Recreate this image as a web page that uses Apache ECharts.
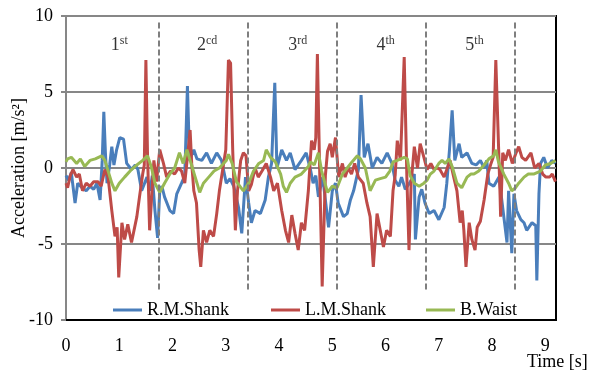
<!DOCTYPE html>
<html>
<head>
<meta charset="utf-8">
<script src="https://cdn.jsdelivr.net/npm/echarts@6/dist/echarts.min.js"></script>
<style>
  html, body { margin: 0; padding: 0; background: #fff; }
  #chart { width: 594px; height: 373px; }
</style>
</head>
<body>
<div id="chart"></div>
<script>
// series, [time s, acceleration m/s2]
const rmShank = [[0,-0.5],[0.05,-0.8],[0.1,-0.3],[0.17,-2.3],[0.22,-1.0],[0.3,-1.3],[0.38,-1.5],[0.45,-1.2],[0.52,-1.4],[0.58,-1.0],[0.64,-2.1],[0.68,0.5],[0.71,3.7],[0.74,1.0],[0.77,-1.0],[0.82,0.2],[0.86,1.4],[0.9,0.2],[0.95,1.2],[1.01,2.0],[1.08,1.9],[1.14,0.3],[1.23,-0.1],[1.3,0.2],[1.35,-0.1],[1.42,-1.5],[1.52,-0.6],[1.58,-1.5],[1.62,-0.5],[1.67,-2.8],[1.72,-4.6],[1.76,-1.5],[1.8,-1.2],[1.85,-1.9],[1.95,-2.8],[2.02,-3.0],[2.08,-1.7],[2.17,-1.0],[2.23,-0.5],[2.28,5.4],[2.32,0.5],[2.4,1.2],[2.46,0.6],[2.55,0.5],[2.64,1.0],[2.73,0.3],[2.83,1.0],[2.92,0.5],[3.01,-1.0],[3.08,-0.7],[3.15,-1.2],[3.24,-2.6],[3.3,-4.3],[3.37,-0.6],[3.43,-2.3],[3.48,-3.6],[3.55,-2.8],[3.65,-3.0],[3.74,-2.1],[3.8,-0.6],[3.86,0.3],[3.92,5.6],[3.96,0],[4.05,1.2],[4.14,0.5],[4.21,1.0],[4.3,-0.1],[4.42,0.5],[4.51,1.0],[4.59,-0.1],[4.64,-1.0],[4.69,-0.5],[4.74,-1.9],[4.82,-0.6],[4.93,-3.9],[5.0,-1.5],[5.06,-1.0],[5.11,-2.3],[5.21,-3.2],[5.28,-3.0],[5.34,-2.1],[5.4,-1.5],[5.49,-0.1],[5.54,4.8],[5.6,0.7],[5.67,1.6],[5.75,0],[5.84,0.7],[5.93,0.3],[6.03,1.0],[6.12,0.3],[6.18,-0.8],[6.25,-1.2],[6.3,-0.6],[6.37,-1.4],[6.45,-1.0],[6.54,-0.4],[6.56,-4.7],[6.63,-1.9],[6.68,-1.4],[6.74,-2.3],[6.82,-3.0],[6.91,-2.8],[7.0,-3.4],[7.1,-2.6],[7.15,-1.0],[7.2,1.2],[7.25,3.8],[7.3,0.5],[7.38,1.6],[7.43,0.7],[7.53,1.0],[7.62,0.3],[7.7,0.2],[7.78,0.5],[7.85,0.0],[7.9,0.5],[7.94,-1.0],[8.03,-1.2],[8.13,-0.6],[8.22,-3.2],[8.28,-4.9],[8.31,-1.5],[8.37,-5.6],[8.41,-1.7],[8.46,-2.8],[8.54,-3.4],[8.6,-3.6],[8.65,-4.1],[8.75,-3.6],[8.82,-3.8],[8.84,-7.4],[8.88,-1.7],[8.91,0.3],[8.97,0.7],[9.04,0.0],[9.12,0.5],[9.19,0.3]];

const lmShank = [[0,-1.0],[0.03,-1.3],[0.08,-0.5],[0.13,-0.1],[0.2,-0.6],[0.25,-0.4],[0.31,-1.5],[0.38,-1.0],[0.45,-1.2],[0.52,-0.9],[0.6,-0.9],[0.66,-1.2],[0.73,-0.1],[0.79,-0.6],[0.86,-2.8],[0.92,-4.5],[0.96,-3.9],[0.99,-7.2],[1.05,-3.6],[1.1,-4.7],[1.16,-3.7],[1.23,-4.9],[1.33,-3.2],[1.38,-1.9],[1.44,-0.4],[1.47,0.2],[1.5,7.1],[1.53,1.0],[1.57,-4.1],[1.65,0.5],[1.7,-0.9],[1.76,1.2],[1.83,0.3],[1.89,-0.6],[1.96,-0.2],[2.04,-0.4],[2.11,0.0],[2.17,-0.2],[2.23,-1.0],[2.3,1.4],[2.33,2.5],[2.36,0.3],[2.4,-1.5],[2.45,-2.3],[2.5,-5.4],[2.53,-6.5],[2.58,-4.1],[2.64,-4.9],[2.7,-4.1],[2.77,-4.5],[2.83,-3.0],[2.88,-1.5],[2.96,0.3],[3.0,1.2],[3.05,7.1],[3.09,6.9],[3.13,1.2],[3.18,-4.1],[3.22,-1.5],[3.28,0.5],[3.33,1.0],[3.38,0.8],[3.43,-1.5],[3.48,-1.1],[3.55,0.0],[3.61,-0.6],[3.68,-0.2],[3.76,0.3],[3.84,-0.6],[3.9,-1.5],[3.97,-1.0],[4.05,-2.8],[4.12,-4.1],[4.18,-4.9],[4.24,-3.1],[4.3,-4.3],[4.36,-5.4],[4.42,-3.6],[4.48,-4.1],[4.55,-1.5],[4.61,1.8],[4.66,1.2],[4.69,2.0],[4.72,7.5],[4.76,0.3],[4.81,-7.8],[4.87,-0.5],[4.91,1.1],[4.96,1.6],[5.0,0.7],[5.06,2.0],[5.12,-0.6],[5.19,0.3],[5.24,-0.6],[5.3,0.0],[5.36,-0.4],[5.42,0.3],[5.49,-0.6],[5.58,-1.0],[5.65,-2.3],[5.71,-3.2],[5.77,-6.5],[5.84,-3.0],[5.9,-4.1],[5.96,-5.2],[6.02,-4.1],[6.09,-4.5],[6.14,-1.5],[6.18,-0.5],[6.22,1.8],[6.28,0.5],[6.35,7.3],[6.4,-0.6],[6.44,-5.4],[6.48,-1.0],[6.54,1.4],[6.6,0.0],[6.65,1.6],[6.72,0.7],[6.78,-0.1],[6.85,0.3],[6.91,-0.1],[6.97,0.0],[7.02,-0.1],[7.1,-0.6],[7.16,0.0],[7.21,0.5],[7.28,-0.6],[7.34,-1.5],[7.4,-3.6],[7.44,-2.8],[7.47,-4.1],[7.51,-6.5],[7.57,-3.6],[7.62,-4.7],[7.68,-5.4],[7.72,-3.9],[7.78,-3.5],[7.85,-2.1],[7.92,-0.4],[7.98,0.3],[8.02,0.7],[8.07,7.1],[8.11,2.7],[8.15,-1.8],[8.16,-3.2],[8.2,1.0],[8.25,0.5],[8.31,1.2],[8.38,0.3],[8.45,1.0],[8.5,1.4],[8.56,0.7],[8.63,0.5],[8.73,1.0],[8.8,0.0],[8.88,0.3],[8.95,-0.4],[9.01,-0.6],[9.08,-0.6],[9.13,-0.4],[9.19,-0.9]];

const bWaist = [[0,0.4],[0.03,0.6],[0.1,0.7],[0.2,0.3],[0.27,0.6],[0.35,0.1],[0.45,0.5],[0.55,0.6],[0.67,0.8],[0.73,0.5],[0.8,-0.3],[0.86,-1.0],[0.92,-1.5],[1.0,-1.0],[1.1,-0.6],[1.23,-0.1],[1.33,0.2],[1.44,0.5],[1.53,0.8],[1.6,0.1],[1.67,-1.0],[1.76,-1.6],[1.85,-1.0],[1.95,-0.4],[2.04,0.0],[2.13,1.0],[2.2,0.3],[2.27,1.2],[2.33,0.5],[2.4,-0.3],[2.46,-1.0],[2.51,-1.6],[2.58,-1.0],[2.68,-0.6],[2.78,-0.2],[2.88,0.0],[3.01,0.5],[3.05,0.9],[3.12,0.3],[3.2,-0.9],[3.33,-1.5],[3.43,-1.0],[3.52,-0.2],[3.62,0.3],[3.71,0.5],[3.76,1.2],[3.84,0.7],[3.93,0.4],[4.03,-0.4],[4.08,-1.2],[4.14,-1.6],[4.21,-1.0],[4.3,-0.6],[4.42,-0.4],[4.55,0.1],[4.59,0.4],[4.66,0.2],[4.74,1.0],[4.8,-0.2],[4.91,-1.6],[5.0,-1.2],[5.09,-1.3],[5.19,-0.4],[5.28,0.0],[5.37,0.4],[5.47,0.8],[5.53,0.6],[5.62,0.0],[5.71,-1.5],[5.81,-0.8],[5.9,-0.7],[6.0,-0.6],[6.08,-0.2],[6.14,0.4],[6.22,0.5],[6.35,0.7],[6.41,0.6],[6.46,-0.5],[6.54,-1.0],[6.63,-1.2],[6.72,-1.0],[6.78,-0.8],[6.84,-0.4],[6.91,-0.2],[7.0,0.3],[7.06,0.5],[7.12,0.3],[7.19,0.6],[7.25,0.1],[7.34,-1.0],[7.43,-1.3],[7.53,-0.6],[7.6,-0.4],[7.66,-0.4],[7.75,-0.2],[7.85,0.2],[7.94,0.6],[8.03,0.8],[8.07,1.2],[8.12,0.4],[8.22,-0.4],[8.31,-1.0],[8.37,-1.5],[8.44,-1.3],[8.5,-1.0],[8.6,-0.6],[8.68,-0.4],[8.78,-0.4],[8.91,-0.2],[9.0,0.2],[9.1,0.3],[9.19,0.5]];

// step boundaries (dashed) and the step labels
const stepBounds = [1.74, 3.42, 5.09, 6.76, 8.43];
const stepTimes = [1.0, 2.65, 4.35, 6.0, 7.67];
const stepNums = ['1', '2', '3', '4', '5'];
const stepSup = ['st', 'cd', 'rd', 'th', 'th'];

const xTicks = [0, 9.2, 1];
const yTicks = [-10, 10, 5];

const FONT = '"Liberation Serif", "Times New Roman", serif';
const colors = ['#4a7ebb', '#be4b48', '#98b954'];

const chart = echarts.init(document.getElementById('chart'));

const option = {
    backgroundColor: '#fff',
    color: colors,
    textStyle: {fontFamily: FONT, color: '#000'},
    grid: {
        left: 66, right: 38, top: 16, bottom: 53,
        outerBoundsMode: 'none', containLabel: false,
        show: true, borderColor: '#000', borderWidth: 2, backgroundColor: '#fff'
    },
    legend: [
        {data: ['R.M.Shank'], left: 108},
        {data: ['L.M.Shank'], left: 266},
        {data: ['B.Waist'], left: 421}
    ].map(l => Object.assign(l, {
        top: 296, itemWidth: 29, itemHeight: 3, icon: 'rect',
        textStyle: {fontFamily: FONT, fontSize: 18, color: '#000'}
    })),
    xAxis: {
        type: 'value', min: xTicks[0], max: xTicks[1], interval: xTicks[2],
        axisLine: {onZero: false, lineStyle: {color: '#000', width: 2}},
        axisTick: {show: false},
        splitLine: {show: false},
        axisLabel: {fontFamily: FONT, fontSize: 18, color: '#000', margin: 17,
            showMaxLabel: false}
    },
    yAxis: {
        type: 'value', min: yTicks[0], max: yTicks[1], interval: yTicks[2],
        name: 'Acceleration [m/s²]', nameLocation: 'middle', nameGap: 38, nameRotate: 90,
        nameMoveOverlap: false,
        nameTextStyle: {fontFamily: FONT, fontSize: 18, color: '#000'},
        axisLine: {show: true, onZero: false, lineStyle: {color: '#878787', width: 2}},
        axisTick: {show: true, length: 5, lineStyle: {color: '#878787', width: 2}},
        splitLine: {lineStyle: {color: '#878787', width: 2}},
        axisLabel: {fontFamily: FONT, fontSize: 18, color: '#000', margin: 13}
    },
    graphic: [{
        type: 'text', left: 527, top: 353,
        style: {text: 'Time [s]', font: '18px ' + FONT, fill: '#000'}
    }],
    series: [
        {name: 'R.M.Shank', type: 'line', data: rmShank},
        {name: 'L.M.Shank', type: 'line', data: lmShank},
        {
            name: 'B.Waist', type: 'line', data: bWaist,
            markLine: {
                silent: true, symbol: 'none',
                label: {show: false},
                lineStyle: {color: '#7f7f7f', width: 2, type: [6, 3]},
                data: stepBounds.map(t => [{coord: [t, -8]}, {coord: [t, 9.6]}])
            }
        },
        {
            name: 'steps', type: 'scatter', symbolSize: 0, silent: true,
            data: stepTimes.map((t, i) => ({value: [t, 8.1], num: stepNums[i], sup: stepSup[i]})),
            label: {
                show: true, position: 'inside',
                formatter: p => '{n|' + p.data.num + '}{s|' + p.data.sup + '}',
                rich: {
                    n: {fontFamily: FONT, fontSize: 18, color: '#000', lineHeight: 20},
                    s: {fontFamily: FONT, fontSize: 12, color: '#000', verticalAlign: 'top', lineHeight: 12}
                }
            }
        }
    ].map(s => s.type === 'line' ? Object.assign(s, {
        symbol: 'none', smooth: false, animation: false,
        lineStyle: {width: 3}
    }) : Object.assign(s, {animation: false}))
};

chart.setOption(option);
</script>
</body>
</html>
